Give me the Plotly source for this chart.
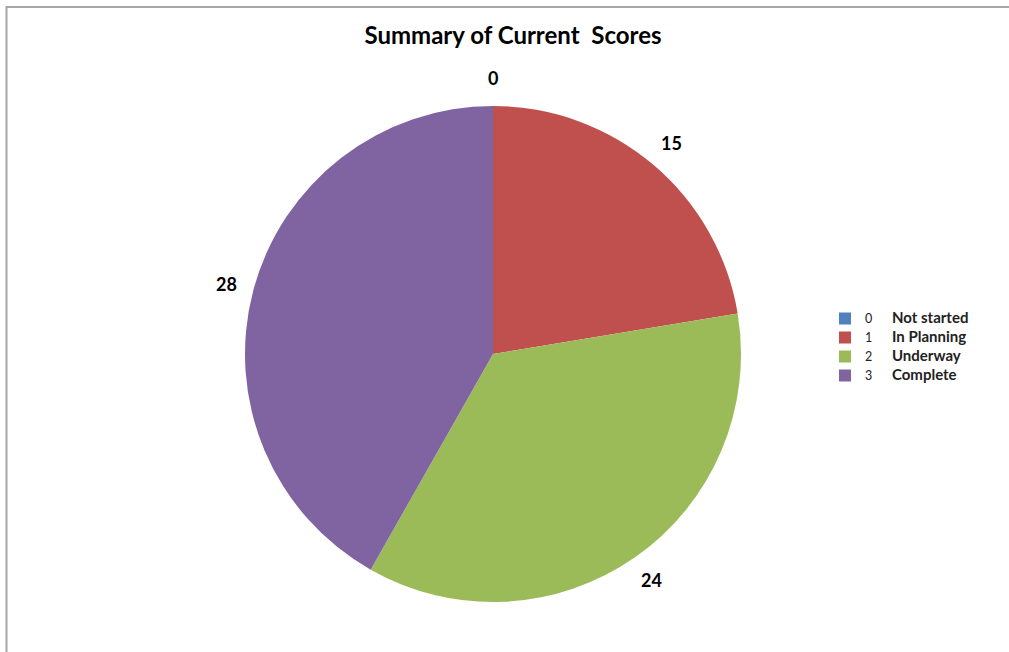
import math
import plotly.graph_objects as go

# data
scores = ["0", "1", "2", "3"]
status = ["Not started", "In Planning", "Underway", "Complete"]
counts = [0, 15, 24, 28]
colors = ["#4F81BD", "#C0504D", "#9BBB59", "#8064A2"]

W, H = 1009, 652
cx, cy, r = 493, 354, 248  # pie centre / radius in px

labels = [f"<span style='font-size:12.5px'>{s}</span>" + "\u00a0" * 7 +
          f"<span style='font-size:15px'><b>{n}</b></span>"
          for s, n in zip(scores, status)]

fig = go.Figure(go.Pie(
    labels=labels,
    values=counts,
    sort=False,
    direction="clockwise",
    rotation=0,
    marker=dict(colors=colors, line=dict(width=0)),
    textinfo="none",
    hoverinfo="label+value",
    domain=dict(x=[(cx - r) / W, (cx + r) / W], y=[1 - (cy + r) / H, 1 - (cy - r) / H]),
))

# value labels just outside each slice, at the middle angle
total = sum(counts)
cum = 0
for v in counts:
    mid = (cum + v / 2) / total * 2 * math.pi
    cum += v
    R = 276
    px_x = cx + R * math.sin(mid)
    px_y = cy - R * math.cos(mid)
    fig.add_annotation(x=px_x / W, y=1 - px_y / H, xref="paper", yref="paper",
                       xanchor="center", yanchor="middle",
                       text=f"<b>{v}</b>", showarrow=False,
                       font=dict(family="Lato", size=18, color="black"))

# chart border (top and left edges visible)
fig.add_shape(type="rect", xref="paper", yref="paper",
              x0=6.5 / W, x1=1.05, y0=-0.05, y1=1 - 7 / H,
              line=dict(color="#a6a6a6", width=2))

fig.update_layout(
    title=dict(text="<b>Summary of Current\u00a0 Scores</b>", x=513 / W, xanchor="center",
               y=1 - 36 / H, yanchor="middle",
               font=dict(family="Lato", size=24, color="black")),
    width=W, height=H,
    margin=dict(l=0, r=0, t=0, b=0),
    paper_bgcolor="white",
    plot_bgcolor="white",
    font=dict(family="Lato"),
    legend=dict(x=825 / W, y=1 - 304 / H, xanchor="left", yanchor="top",
                font=dict(family="Lato", size=11, color="#222222"),
                itemwidth=30, tracegroupgap=0),
)

fig.write_html("out.html", config={"displayModeBar": False},
               post_script="document.body.style.margin='0';")
